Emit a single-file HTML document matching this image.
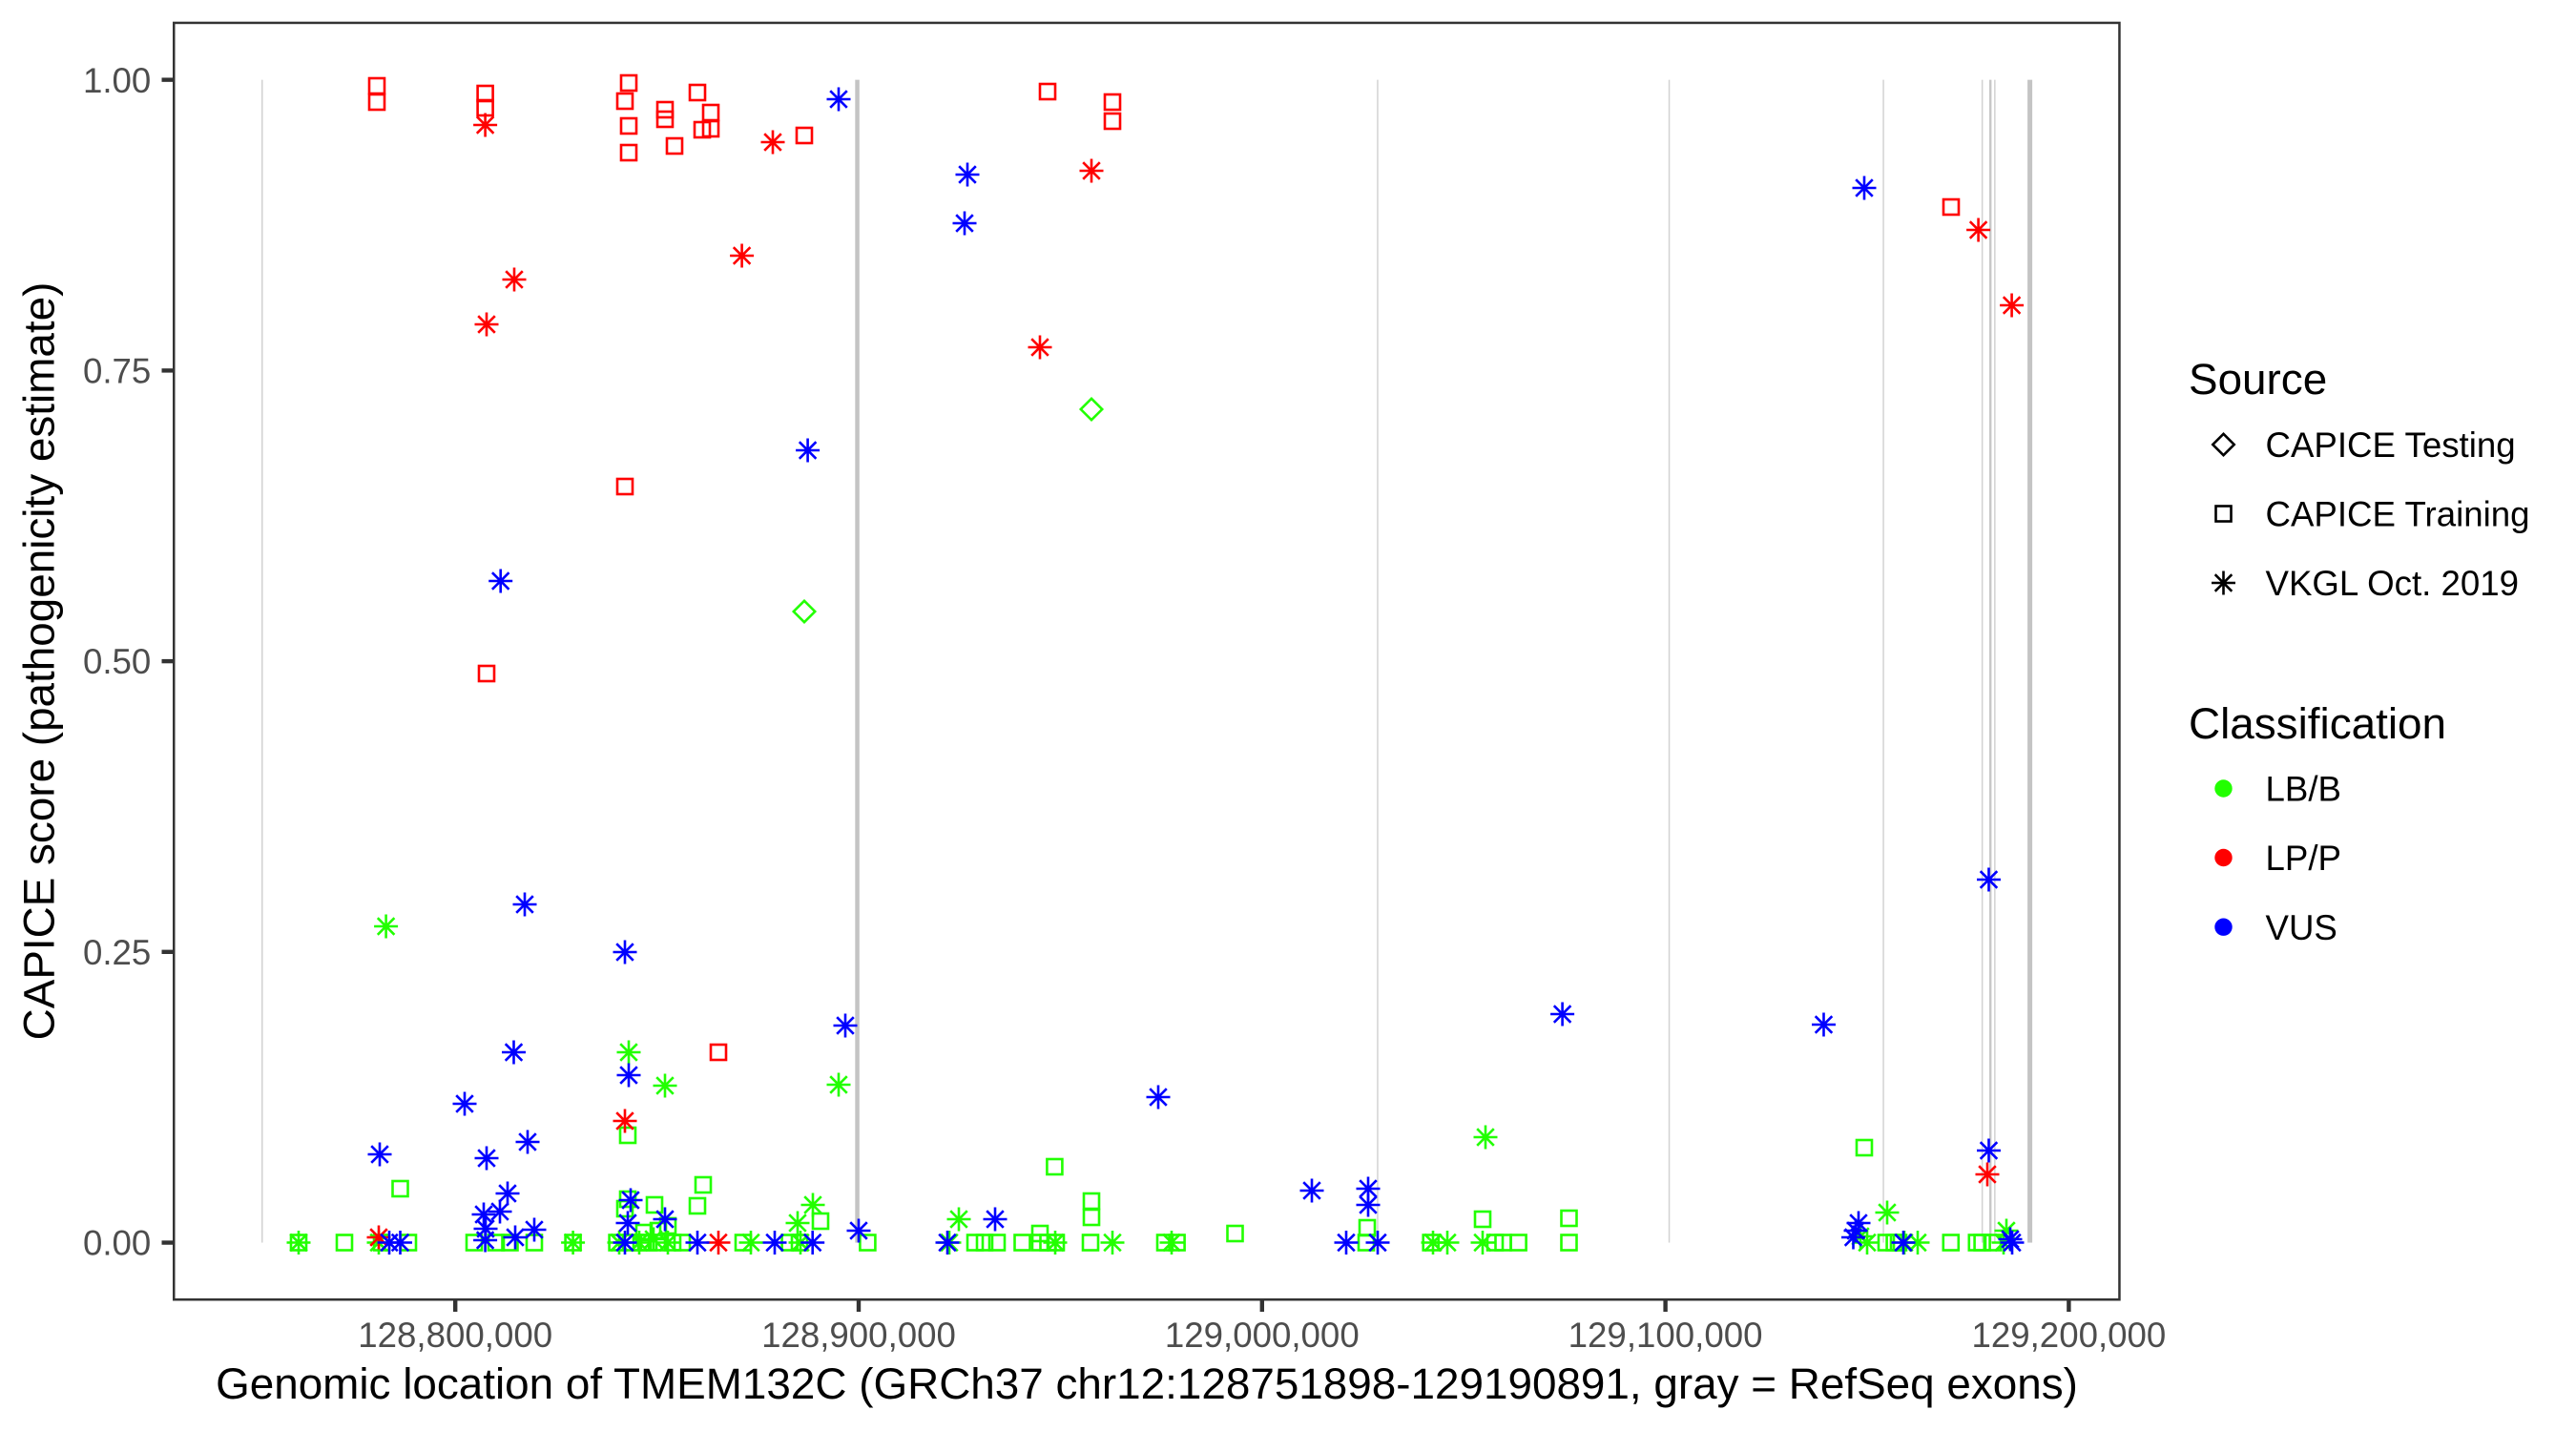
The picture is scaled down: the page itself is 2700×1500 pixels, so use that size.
<!DOCTYPE html>
<html>
<head>
<meta charset="utf-8">
<style>
  html, body { margin: 0; padding: 0; background: #ffffff; }
  svg { display: block; }
  text { font-family: "Liberation Sans", Arial, sans-serif; }
</style>
</head>
<body>
<svg width="2700" height="1500" viewBox="0 0 2700 1500" xmlns="http://www.w3.org/2000/svg">
  <defs>
    <g id="S"><rect x="-8" y="-8" width="16" height="16" fill="none"/></g>
    <g id="A"><path d="M-12.5 0H12.5M0 -12.5V12.5M-8.8 -8.8L8.8 8.8M-8.8 8.8L8.8 -8.8" fill="none"/></g>
    <g id="D"><path d="M0 -11.2L11.2 0L0 11.2L-11.2 0Z" fill="none"/></g>
  </defs>
  <rect x="0" y="0" width="2700" height="1500" fill="#ffffff"/>

  <g>
    <rect x="274" y="83.65" width="1.5" height="1218.9" fill="#D2D2D2"/>
    <rect x="896.3" y="83.65" width="4.5" height="1218.9" fill="#C4C4C4"/>
    <rect x="1443.2" y="83.65" width="1.5" height="1218.9" fill="#D2D2D2"/>
    <rect x="1748.8" y="83.65" width="1.5" height="1218.9" fill="#D2D2D2"/>
    <rect x="1973.3" y="83.65" width="1.5" height="1218.9" fill="#D2D2D2"/>
    <rect x="2076.9" y="83.65" width="1.5" height="1218.9" fill="#D2D2D2"/>
    <rect x="2085" y="83.65" width="2.4" height="1218.9" fill="#C8C8C8"/>
    <rect x="2090.1" y="83.65" width="1.5" height="1218.9" fill="#D2D2D2"/>
    <rect x="2125.1" y="83.65" width="5" height="1218.9" fill="#C4C4C4"/>
  </g>

  <g stroke-width="2.6" stroke-linecap="butt">
    <g stroke="#22FF00">
      <use href="#S" x="313" y="1302.5"/>
      <use href="#S" x="361" y="1302.5"/>
      <use href="#S" x="400" y="1302.5"/>
      <use href="#S" x="428" y="1302.5"/>
      <use href="#S" x="497" y="1302.5"/>
      <use href="#S" x="520" y="1302.5"/>
      <use href="#S" x="534.5" y="1302.5"/>
      <use href="#S" x="560" y="1302.5"/>
      <use href="#S" x="600.6" y="1302.5"/>
      <use href="#S" x="646.6" y="1302.5"/>
      <use href="#S" x="661" y="1302.5"/>
      <use href="#S" x="672" y="1302.5"/>
      <use href="#S" x="680" y="1302.5"/>
      <use href="#S" x="690" y="1302.5"/>
      <use href="#S" x="705" y="1302.5"/>
      <use href="#S" x="715" y="1302.5"/>
      <use href="#S" x="779" y="1302.5"/>
      <use href="#S" x="827.6" y="1302.5"/>
      <use href="#S" x="838" y="1302.5"/>
      <use href="#S" x="909.4" y="1302.5"/>
      <use href="#S" x="1022" y="1302.5"/>
      <use href="#S" x="1032" y="1302.5"/>
      <use href="#S" x="1045" y="1302.5"/>
      <use href="#S" x="1071.5" y="1302.5"/>
      <use href="#S" x="1090" y="1302.5"/>
      <use href="#S" x="1098.5" y="1302.5"/>
      <use href="#S" x="1107" y="1302.5"/>
      <use href="#S" x="1143" y="1302.5"/>
      <use href="#S" x="1221" y="1302.5"/>
      <use href="#S" x="1233.6" y="1302.5"/>
      <use href="#S" x="1432" y="1302.5"/>
      <use href="#S" x="1499.7" y="1302.5"/>
      <use href="#S" x="1567" y="1302.5"/>
      <use href="#S" x="1575.5" y="1302.5"/>
      <use href="#S" x="1591.6" y="1302.5"/>
      <use href="#S" x="1644.5" y="1302.5"/>
      <use href="#S" x="1977" y="1302.5"/>
      <use href="#S" x="1985.6" y="1302.5"/>
      <use href="#S" x="1990" y="1302.5"/>
      <use href="#S" x="2044.8" y="1302.5"/>
      <use href="#S" x="2071.8" y="1302.5"/>
      <use href="#S" x="2077.6" y="1302.5"/>
      <use href="#S" x="2089" y="1302.5"/>
      <use href="#S" x="419.5" y="1246"/>
      <use href="#S" x="737" y="1242"/>
      <use href="#S" x="658" y="1190"/>
      <use href="#S" x="658" y="1257"/>
      <use href="#S" x="655" y="1267"/>
      <use href="#S" x="731" y="1264"/>
      <use href="#S" x="686" y="1263"/>
      <use href="#S" x="700" y="1285"/>
      <use href="#S" x="690" y="1290"/>
      <use href="#S" x="675" y="1292"/>
      <use href="#S" x="860" y="1280"/>
      <use href="#S" x="1105.4" y="1223"/>
      <use href="#S" x="1144" y="1259"/>
      <use href="#S" x="1144" y="1276"/>
      <use href="#S" x="1090" y="1293"/>
      <use href="#S" x="1294.5" y="1293"/>
      <use href="#S" x="1433" y="1287"/>
      <use href="#S" x="1554" y="1278"/>
      <use href="#S" x="1644.5" y="1277"/>
      <use href="#S" x="1954" y="1203"/>
    </g>
    <g stroke="#22FF00">
      <use href="#A" x="313" y="1302.5"/>
      <use href="#A" x="397" y="1302.5"/>
      <use href="#A" x="600.6" y="1302.5"/>
      <use href="#A" x="649" y="1302.5"/>
      <use href="#A" x="670" y="1302.5"/>
      <use href="#A" x="685" y="1299"/>
      <use href="#A" x="700" y="1302.5"/>
      <use href="#A" x="787" y="1302.5"/>
      <use href="#A" x="839" y="1302.5"/>
      <use href="#A" x="995" y="1302.5"/>
      <use href="#A" x="1106" y="1302.5"/>
      <use href="#A" x="1166" y="1302.5"/>
      <use href="#A" x="1228" y="1302.5"/>
      <use href="#A" x="1502" y="1302.5"/>
      <use href="#A" x="1517" y="1302.5"/>
      <use href="#A" x="1554" y="1302.5"/>
      <use href="#A" x="1957" y="1302.5"/>
      <use href="#A" x="1996" y="1302.5"/>
      <use href="#A" x="2010" y="1302.5"/>
      <use href="#A" x="2100" y="1302.5"/>
      <use href="#A" x="1950" y="1296"/>
      <use href="#A" x="2103" y="1290"/>
      <use href="#A" x="404.6" y="971"/>
      <use href="#A" x="659" y="1103"/>
      <use href="#A" x="697" y="1138"/>
      <use href="#A" x="879" y="1137"/>
      <use href="#A" x="1557" y="1192"/>
      <use href="#A" x="1005" y="1278"/>
      <use href="#A" x="852" y="1263"/>
      <use href="#A" x="836" y="1282"/>
      <use href="#A" x="1978" y="1271"/>
    </g>
    <g stroke="#22FF00">
      <use href="#D" x="843" y="641"/>
      <use href="#D" x="1144" y="429"/>
    </g>
    <g stroke="#FF0000">
      <use href="#S" x="395" y="90"/>
      <use href="#S" x="395" y="107"/>
      <use href="#S" x="508.6" y="98"/>
      <use href="#S" x="508.6" y="113"/>
      <use href="#S" x="659" y="87"/>
      <use href="#S" x="655" y="106"/>
      <use href="#S" x="659" y="132"/>
      <use href="#S" x="659" y="160"/>
      <use href="#S" x="697" y="115"/>
      <use href="#S" x="697" y="125"/>
      <use href="#S" x="707" y="153"/>
      <use href="#S" x="731" y="97"/>
      <use href="#S" x="745" y="118"/>
      <use href="#S" x="745" y="135"/>
      <use href="#S" x="736" y="136"/>
      <use href="#S" x="843" y="142"/>
      <use href="#S" x="1098" y="96"/>
      <use href="#S" x="1166" y="107"/>
      <use href="#S" x="1166" y="127"/>
      <use href="#S" x="2045" y="217"/>
      <use href="#S" x="655" y="510"/>
      <use href="#S" x="510" y="706"/>
      <use href="#S" x="753" y="1103"/>
    </g>
    <g stroke="#FF0000">
      <use href="#A" x="508.6" y="131"/>
      <use href="#A" x="810" y="149"/>
      <use href="#A" x="539" y="293"/>
      <use href="#A" x="777.6" y="268"/>
      <use href="#A" x="510" y="340"/>
      <use href="#A" x="1144" y="179"/>
      <use href="#A" x="1090" y="364"/>
      <use href="#A" x="2073.6" y="241"/>
      <use href="#A" x="2108.6" y="320"/>
      <use href="#A" x="655" y="1175"/>
      <use href="#A" x="2083" y="1231"/>
      <use href="#A" x="397" y="1297"/>
      <use href="#A" x="753" y="1302.5"/>
    </g>
    <g stroke="#0000FF">
      <use href="#A" x="879" y="104"/>
      <use href="#A" x="1014" y="183"/>
      <use href="#A" x="1011" y="234"/>
      <use href="#A" x="846.6" y="472"/>
      <use href="#A" x="524.7" y="609"/>
      <use href="#A" x="550" y="948"/>
      <use href="#A" x="655" y="998"/>
      <use href="#A" x="886" y="1075"/>
      <use href="#A" x="538.5" y="1103"/>
      <use href="#A" x="659" y="1127"/>
      <use href="#A" x="487" y="1157"/>
      <use href="#A" x="1214" y="1150"/>
      <use href="#A" x="1637.6" y="1063"/>
      <use href="#A" x="1911.5" y="1074"/>
      <use href="#A" x="1954" y="197"/>
      <use href="#A" x="2084.5" y="922"/>
      <use href="#A" x="2084.5" y="1206"/>
      <use href="#A" x="553" y="1197"/>
      <use href="#A" x="398" y="1210"/>
      <use href="#A" x="510" y="1214"/>
      <use href="#A" x="532" y="1251"/>
      <use href="#A" x="661" y="1258"/>
      <use href="#A" x="524" y="1270"/>
      <use href="#A" x="507" y="1273"/>
      <use href="#A" x="697" y="1278"/>
      <use href="#A" x="658" y="1282"/>
      <use href="#A" x="560" y="1289"/>
      <use href="#A" x="509" y="1288"/>
      <use href="#A" x="900" y="1290"/>
      <use href="#A" x="1043" y="1278"/>
      <use href="#A" x="1375" y="1248"/>
      <use href="#A" x="1434" y="1246"/>
      <use href="#A" x="1434" y="1263"/>
      <use href="#A" x="1948" y="1282"/>
      <use href="#A" x="1945" y="1290"/>
      <use href="#A" x="1942.5" y="1297"/>
      <use href="#A" x="408" y="1302.5"/>
      <use href="#A" x="419.5" y="1302.5"/>
      <use href="#A" x="508.6" y="1300"/>
      <use href="#A" x="540" y="1297"/>
      <use href="#A" x="655" y="1302.5"/>
      <use href="#A" x="731" y="1302.5"/>
      <use href="#A" x="812" y="1302.5"/>
      <use href="#A" x="851.7" y="1302.5"/>
      <use href="#A" x="993" y="1302.5"/>
      <use href="#A" x="1411" y="1302.5"/>
      <use href="#A" x="1444" y="1302.5"/>
      <use href="#A" x="1995" y="1302.5"/>
      <use href="#A" x="2109" y="1302.5"/>
      <use href="#A" x="2107" y="1299"/>
    </g>
  </g>

  <rect x="182.25" y="23.95" width="2039.2" height="1338.3" fill="none" stroke="#333333" stroke-width="2.5"/>

  <g stroke="#333333" stroke-width="4.4">
    <line x1="169.5" y1="83.65" x2="181" y2="83.65"/>
    <line x1="169.5" y1="388.4" x2="181" y2="388.4"/>
    <line x1="169.5" y1="693.1" x2="181" y2="693.1"/>
    <line x1="169.5" y1="997.8" x2="181" y2="997.8"/>
    <line x1="169.5" y1="1302.55" x2="181" y2="1302.55"/>
  </g>
  <g font-size="36.67" fill="#4D4D4D" text-anchor="end">
    <text x="158.3" y="96.8">1.00</text>
    <text x="158.3" y="401.5">0.75</text>
    <text x="158.3" y="706.2">0.50</text>
    <text x="158.3" y="1010.9">0.25</text>
    <text x="158.3" y="1315.6">0.00</text>
  </g>

  <g stroke="#333333" stroke-width="4.4">
    <line x1="477.2" y1="1363.5" x2="477.2" y2="1375"/>
    <line x1="900" y1="1363.5" x2="900" y2="1375"/>
    <line x1="1322.8" y1="1363.5" x2="1322.8" y2="1375"/>
    <line x1="1745.6" y1="1363.5" x2="1745.6" y2="1375"/>
    <line x1="2168.4" y1="1363.5" x2="2168.4" y2="1375"/>
  </g>
  <g font-size="36.67" fill="#4D4D4D" text-anchor="middle">
    <text x="477.2" y="1412">128,800,000</text>
    <text x="900" y="1412">128,900,000</text>
    <text x="1322.8" y="1412">129,000,000</text>
    <text x="1745.6" y="1412">129,100,000</text>
    <text x="2168.4" y="1412">129,200,000</text>
  </g>

  <text x="1202" y="1466" font-size="45.83" fill="#000000" text-anchor="middle">Genomic location of TMEM132C (GRCh37 chr12:128751898-129190891, gray = RefSeq exons)</text>
  <text transform="translate(56.5,693) rotate(-90)" font-size="45.83" fill="#000000" text-anchor="middle">CAPICE score (pathogenicity estimate)</text>

  <text x="2294" y="413" font-size="45.83" fill="#000000">Source</text>
  <g stroke="#000000" stroke-width="2.6">
    <use href="#D" x="2330.5" y="466"/>
    <use href="#S" x="2330.5" y="538.5"/>
    <use href="#A" x="2330.5" y="611"/>
  </g>
  <g font-size="36.67" fill="#000000">
    <text x="2374.5" y="479.1">CAPICE Testing</text>
    <text x="2374.5" y="551.6">CAPICE Training</text>
    <text x="2374.5" y="624.1">VKGL Oct. 2019</text>
  </g>

  <text x="2294" y="774" font-size="45.83" fill="#000000">Classification</text>
  <circle cx="2330.5" cy="826.5" r="9.2" fill="#22FF00"/>
  <circle cx="2330.5" cy="899" r="9.2" fill="#FF0000"/>
  <circle cx="2330.5" cy="971.7" r="9.2" fill="#0000FF"/>
  <g font-size="36.67" fill="#000000">
    <text x="2374.5" y="839.6">LB/B</text>
    <text x="2374.5" y="912.1">LP/P</text>
    <text x="2374.5" y="984.8">VUS</text>
  </g>
</svg>
</body>
</html>
